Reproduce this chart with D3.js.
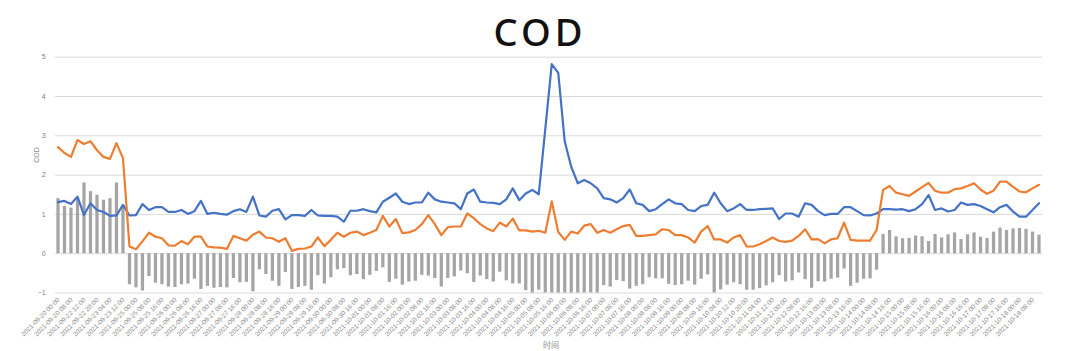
<!DOCTYPE html>
<html>
<head>
<meta charset="utf-8">
<script src="https://cdn.jsdelivr.net/npm/d3@7/dist/d3.min.js"></script>
<style>
  html, body { margin: 0; padding: 0; background: #fff; }
  svg { display: block; }
</style>
</head>
<body>
<svg id="chart" width="1080" height="351"></svg>
<script>
// ---- DATA ----
const tickLabels = [
"2021-09-20 00:00","2021-09-20 08:00","2021-09-22 12:00","2021-09-22 20:00","2021-09-23 04:00","2021-09-23 12:00",
"2021-09-25 00:00","2021-09-25 08:00","2021-09-25 16:00",
"2021-09-26 00:00","2021-09-26 08:00","2021-09-26 16:00",
"2021-09-27 00:00","2021-09-27 08:00","2021-09-27 16:00",
"2021-09-28 00:00","2021-09-28 08:00","2021-09-28 16:00",
"2021-09-29 00:00","2021-09-29 08:00","2021-09-29 16:00",
"2021-09-30 00:00","2021-09-30 08:00","2021-09-30 16:00",
"2021-10-01 00:00","2021-10-01 08:00","2021-10-01 16:00",
"2021-10-02 00:00","2021-10-02 08:00","2021-10-02 16:00",
"2021-10-03 00:00","2021-10-03 08:00","2021-10-03 16:00",
"2021-10-04 00:00","2021-10-04 08:00","2021-10-04 16:00",
"2021-10-05 00:00","2021-10-05 08:00","2021-10-05 16:00",
"2021-10-06 00:00","2021-10-06 08:00","2021-10-06 16:00",
"2021-10-07 00:00","2021-10-07 08:00","2021-10-07 16:00",
"2021-10-08 00:00","2021-10-08 08:00","2021-10-08 16:00",
"2021-10-09 00:00","2021-10-09 08:00","2021-10-09 16:00",
"2021-10-10 04:00","2021-10-10 12:00","2021-10-10 20:00","2021-10-11 04:00","2021-10-11 12:00",
"2021-10-12 00:00","2021-10-12 08:00","2021-10-12 16:00",
"2021-10-13 00:00","2021-10-13 08:00","2021-10-13 16:00",
"2021-10-14 00:00","2021-10-14 08:00","2021-10-14 16:00",
"2021-10-15 00:00","2021-10-15 08:00","2021-10-15 16:00",
"2021-10-16 00:00","2021-10-16 08:00","2021-10-16 16:00",
"2021-10-17 00:00","2021-10-17 08:00","2021-10-17 16:00",
"2021-10-18 00:00","2021-10-18 08:00"
];

// blue line
const seriesBlue = [
1.30,1.33,1.25,1.44,0.97,1.27,1.10,1.05,0.95,0.96,
1.23,0.96,0.97,1.25,1.10,1.17,1.17,1.05,1.05,1.10,
1.00,1.07,1.33,1.00,1.03,1.00,0.98,1.07,1.12,1.05,
1.44,0.96,0.93,1.08,1.12,0.86,0.97,0.97,0.95,1.10,
0.96,0.95,0.95,0.93,0.80,1.08,1.08,1.12,1.07,1.04,
1.31,1.41,1.52,1.31,1.25,1.29,1.29,1.54,1.37,1.31,
1.29,1.27,1.12,1.52,1.62,1.31,1.29,1.28,1.25,1.37,
1.65,1.35,1.52,1.61,1.50,3.15,4.81,4.59,2.84,2.20,
1.78,1.86,1.78,1.65,1.40,1.37,1.29,1.40,1.62,1.27,
1.23,1.07,1.12,1.25,1.37,1.27,1.25,1.10,1.07,1.20,
1.23,1.54,1.27,1.07,1.14,1.25,1.10,1.10,1.12,1.13,
1.14,0.87,1.01,1.01,0.93,1.27,1.23,1.07,0.97,1.00,
1.00,1.17,1.17,1.07,0.97,0.96,1.01,1.12,1.12,1.11,
1.12,1.07,1.12,1.25,1.48,1.10,1.14,1.06,1.10,1.29,
1.23,1.25,1.20,1.12,1.04,1.17,1.23,1.06,0.93,0.93,
1.10,1.27
];

// orange line
const seriesOrange = [
2.70,2.55,2.45,2.88,2.78,2.85,2.62,2.45,2.40,2.80,
2.42,0.17,0.10,0.30,0.52,0.42,0.38,0.20,0.19,0.31,
0.23,0.42,0.42,0.17,0.15,0.14,0.11,0.44,0.38,0.32,
0.47,0.55,0.40,0.38,0.29,0.38,0.06,0.11,0.12,0.17,
0.40,0.18,0.34,0.52,0.42,0.52,0.55,0.46,0.52,0.59,
0.95,0.68,0.87,0.51,0.53,0.59,0.74,0.97,0.74,0.46,
0.66,0.68,0.68,1.01,0.89,0.74,0.63,0.56,0.78,0.68,
0.88,0.58,0.58,0.55,0.57,0.52,1.32,0.54,0.34,0.55,
0.50,0.70,0.74,0.52,0.59,0.52,0.61,0.69,0.72,0.44,
0.44,0.46,0.48,0.61,0.59,0.46,0.46,0.40,0.27,0.55,
0.69,0.35,0.35,0.27,0.40,0.46,0.17,0.17,0.23,0.31,
0.40,0.31,0.29,0.32,0.44,0.61,0.35,0.36,0.25,0.35,
0.38,0.78,0.34,0.32,0.32,0.32,0.59,1.61,1.71,1.54,
1.50,1.46,1.57,1.68,1.79,1.59,1.54,1.54,1.63,1.65,
1.71,1.78,1.62,1.51,1.59,1.82,1.82,1.69,1.57,1.55,
1.65,1.74
];

// gray bars
const seriesBars = [
1.40,1.20,1.16,1.42,1.80,1.58,1.49,1.36,1.40,1.80,
1.19,-0.79,-0.87,-0.95,-0.58,-0.75,-0.79,-0.85,-0.86,-0.79,
-0.77,-0.65,-0.91,-0.83,-0.88,-0.86,-0.87,-0.63,-0.74,-0.73,
-0.97,-0.41,-0.53,-0.70,-0.83,-0.48,-0.91,-0.86,-0.83,-0.93,
-0.56,-0.77,-0.61,-0.41,-0.38,-0.56,-0.53,-0.66,-0.55,-0.45,
-0.36,-0.73,-0.65,-0.80,-0.72,-0.70,-0.55,-0.57,-0.63,-0.85,
-0.63,-0.59,-0.44,-0.51,-0.73,-0.57,-0.66,-0.72,-0.47,-0.69,
-0.77,-0.77,-0.94,-1.06,-0.93,-2.63,-3.49,-4.05,-2.50,-1.65,
-1.28,-1.16,-1.04,-1.13,-0.81,-0.85,-0.68,-0.71,-0.90,-0.83,
-0.79,-0.61,-0.64,-0.64,-0.78,-0.81,-0.79,-0.70,-0.80,-0.65,
-0.54,-1.19,-0.92,-0.80,-0.74,-0.79,-0.93,-0.93,-0.89,-0.82,
-0.74,-0.56,-0.72,-0.69,-0.49,-0.66,-0.88,-0.71,-0.72,-0.65,
-0.62,-0.39,-0.83,-0.75,-0.65,-0.64,-0.42,0.49,0.59,0.43,
0.38,0.39,0.45,0.43,0.31,0.49,0.40,0.48,0.53,0.36,
0.48,0.53,0.42,0.39,0.55,0.65,0.59,0.63,0.64,0.62,
0.55,0.47
];

const yTicks = [-1, 0, 1, 2, 3, 4, 5];
const chartTitle = "COD";
const yTitle = "COD";
const xTitle = "时间";

// ---- CHART ----
const svg = d3.select("#chart");
const plot = { left: 54.75, right: 1042.25, top: 56.7, bottom: 292.5 };

const idx = d3.range(seriesBlue.length);
const x = d3.scaleBand().domain(idx).range([plot.left, plot.right]).paddingInner(0).paddingOuter(0);
const y = d3.scaleLinear().domain([-1, 5]).range([plot.bottom, plot.top]);
const cx = i => x(i) + x.bandwidth() / 2;

// title
svg.append("text")
  .attr("x", 540).attr("y", 46)
  .attr("text-anchor", "middle")
  .attr("font-family", "'Noto Sans', 'DejaVu Sans', sans-serif")
  .attr("font-size", 38)
  .attr("font-weight", 500)
  .attr("letter-spacing", 4)
  .attr("fill", "#111")
  .text(chartTitle);

// gridlines
const yAxis = d3.axisLeft(y).tickValues(yTicks).tickSize(-(plot.right - plot.left)).tickFormat(d3.format("d"));
const gy = svg.append("g").attr("transform", `translate(${plot.left},0)`).call(yAxis);
gy.select(".domain").remove();
gy.selectAll(".tick line").attr("stroke", "#d9d9d9").attr("stroke-width", 1);
gy.selectAll(".tick text")
  .attr("x", -9)
  .attr("fill", "#7f7f7f")
  .attr("font-size", 7)
  .attr("font-family", "'Liberation Sans', Arial, sans-serif");

// bars (clipped to axis minimum)
const barW = x.bandwidth() * 0.5;
svg.append("g").selectAll("rect")
  .data(seriesBars)
  .join("rect")
  .attr("x", (d, i) => cx(i) - barW / 2)
  .attr("width", barW)
  .attr("y", d => y(Math.max(0, Math.min(d, 5))))
  .attr("height", d => Math.abs(y(Math.max(-1, Math.min(d, 5))) - y(0)))
  .attr("fill", "#a5a5a5");

// lines
const line = d3.line().x((d, i) => cx(i)).y(d => y(d));
svg.append("path").datum(seriesBlue)
  .attr("d", line).attr("fill", "none")
  .attr("stroke", "#4472c4").attr("stroke-width", 2.2)
  .attr("stroke-linejoin", "round").attr("stroke-linecap", "round");
svg.append("path").datum(seriesOrange)
  .attr("d", line).attr("fill", "none")
  .attr("stroke", "#ed7d31").attr("stroke-width", 2.2)
  .attr("stroke-linejoin", "round").attr("stroke-linecap", "round");

// x tick labels
const tickIdx = tickLabels.map((_, k) => k * 2);
const xAxis = d3.axisBottom(x).tickValues(tickIdx).tickSize(0).tickFormat(d => tickLabels[d / 2]);
const gx = svg.append("g").attr("transform", `translate(0,${plot.bottom})`).call(xAxis);
gx.select(".domain").remove();
gx.selectAll(".tick text")
  .attr("y", 0).attr("dy", 0)
  .attr("text-anchor", "end")
  .attr("transform", "translate(2,8) rotate(-45)")
  .attr("fill", "#8c8c8c")
  .attr("font-size", 6.5)
  .attr("font-family", "'Liberation Sans', Arial, sans-serif");

// axis titles
svg.append("text")
  .attr("transform", "translate(39,155) rotate(-90)")
  .attr("text-anchor", "middle")
  .attr("fill", "#8c8c8c")
  .attr("font-size", 7)
  .attr("font-family", "'Liberation Sans', Arial, sans-serif")
  .text(yTitle);

svg.append("text")
  .attr("x", 551).attr("y", 348)
  .attr("text-anchor", "middle")
  .attr("fill", "#8c8c8c")
  .attr("font-size", 8)
  .attr("font-family", "'Noto Sans CJK SC', sans-serif")
  .text(xTitle);
</script>
</body>
</html>
